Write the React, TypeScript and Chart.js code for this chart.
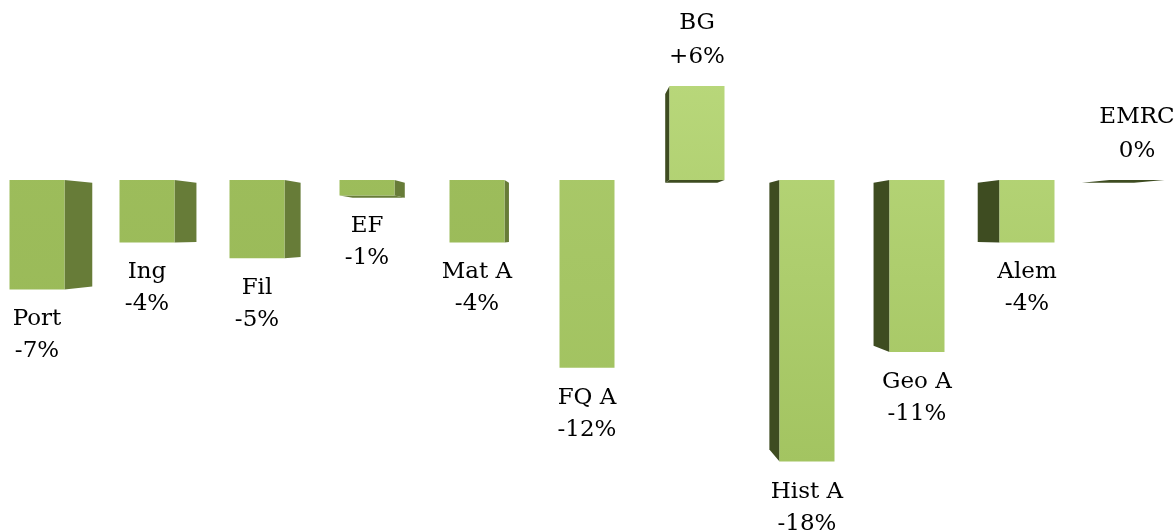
import React, { useEffect, useRef } from "react";
import { Chart, registerables } from "chart.js";

Chart.register(...registerables);

const categories = ["Port", "Ing", "Fil", "EF", "Mat A", "FQ A", "BG", "Hist A", "Geo A", "Alem", "EMRC"];
const values = [-7, -4, -5, -1, -4, -12, 6, -18, -11, -4, 0];
const valueLabels = ["-7%", "-4%", "-5%", "-1%", "-4%", "-12%", "+6%", "-18%", "-11%", "-4%", "0%"];

const Y_MIN = -22.5;
const Y_MAX = 11.5;
const EYE_VALUE = -3.5; // vertical vanishing point, in value units
const DEPTH_SCALE = 0.947; // back face shrink toward vanishing point
const LABEL_FONT = '23px "DejaVu Serif", "Liberation Serif", serif';

function frontColors(i: number): [string, string] {
  if (i < 5) return ["#9EBE5C", "#98B857"];
  if (i === 5) return ["#ABCA6B", "#A0C15E"];
  return ["#B8D77A", "#A3C461"];
}

function sideColor(x: number, vpX: number): string {
  return x < vpX ? "#677C38" : "#3E4C21";
}

const depthPlugin = {
  id: "depth3d",
  beforeDatasetsDraw(chart: any) {
    const { ctx, chartArea, scales } = chart;
    const vpX = (chartArea.left + chartArea.right) / 2 + 1.5;
    const vpY = scales.y.getPixelForValue(EYE_VALUE);
    const s = DEPTH_SCALE;
    const bx = (p: number) => vpX + (p - vpX) * s;
    const by = (p: number) => vpY + (p - vpY) * s;
    const meta = chart.getDatasetMeta(0);
    ctx.save();
    meta.data.forEach((bar: any) => {
      const { x, y, base, width } = bar.getProps(["x", "y", "base", "width"], true);
      const L = x - width / 2;
      const R = x + width / 2;
      const T = Math.min(y, base);
      const B = Math.max(y, base);
      ctx.fillStyle = sideColor(x, vpX);
      const quad = (pts: number[][]) => {
        ctx.beginPath();
        ctx.moveTo(pts[0][0], pts[0][1]);
        for (let k = 1; k < pts.length; k++) ctx.lineTo(pts[k][0], pts[k][1]);
        ctx.closePath();
        ctx.fill();
      };
      if (x < vpX - 2) {
        quad([[R, T], [bx(R), by(T)], [bx(R), by(B)], [R, B]]);
      } else if (x > vpX + 2) {
        quad([[L, T], [bx(L), by(T)], [bx(L), by(B)], [L, B]]);
      }
      if (B < vpY) {
        quad([[L, B], [R, B], [bx(R), by(B)], [bx(L), by(B)]]);
      }
      if (T > vpY) {
        quad([[L, T], [R, T], [bx(R), by(T)], [bx(L), by(T)]]);
      }
    });
    ctx.restore();
  },
  afterDatasetsDraw(chart: any) {
    const { ctx } = chart;
    const meta = chart.getDatasetMeta(0);
    ctx.save();
    ctx.font = LABEL_FONT;
    ctx.fillStyle = "#000000";
    ctx.textAlign = "center";
    ctx.textBaseline = "middle";
    meta.data.forEach((bar: any, i: number) => {
      const { x, y, base } = bar.getProps(["x", "y", "base"], true);
      const T = Math.min(y, base);
      const B = Math.max(y, base);
      if (values[i] >= 0) {
        ctx.fillText(categories[i], x, T - 63);
        ctx.fillText(valueLabels[i], x, T - 29);
      } else {
        ctx.fillText(categories[i], x, B + 30);
        ctx.fillText(valueLabels[i], x, B + 62);
      }
    });
    ctx.restore();
  },
};

export default function App() {
  const canvasRef = useRef<HTMLCanvasElement | null>(null);

  useEffect(() => {
    const canvas = canvasRef.current;
    if (!canvas) return;
    const chart = new Chart(canvas, {
      type: "bar",
      data: {
        labels: categories,
        datasets: [
          {
            data: values,
            borderWidth: 0,
            barPercentage: 0.5,
            categoryPercentage: 1,
            backgroundColor: (c: any) => {
              const { chart: ch, dataIndex } = c;
              const area = ch.chartArea;
              const [top, bottom] = frontColors(dataIndex ?? 0);
              if (!area) return top;
              const g = ch.ctx.createLinearGradient(0, area.top + 80, 0, area.bottom - 70);
              g.addColorStop(0, top);
              g.addColorStop(1, bottom);
              return g;
            },
          },
        ],
      },
      options: {
        responsive: false,
        animation: false,
        layout: { padding: 0 },
        plugins: {
          legend: { display: false },
          tooltip: { enabled: false },
        },
        scales: {
          x: { display: false },
          y: { display: false, min: Y_MIN, max: Y_MAX },
        },
      },
      plugins: [depthPlugin],
    });
    return () => chart.destroy();
  }, []);

  return (
    <div
      style={{
        position: "absolute",
        left: 0,
        top: 0,
        width: 1175,
        height: 532,
        overflow: "hidden",
        background: "#ffffff",
      }}
    >
      <canvas
        ref={canvasRef}
        width={1210}
        height={532}
        style={{ position: "absolute", left: -18, top: 0, width: 1210, height: 532 }}
      />
    </div>
  );
}
